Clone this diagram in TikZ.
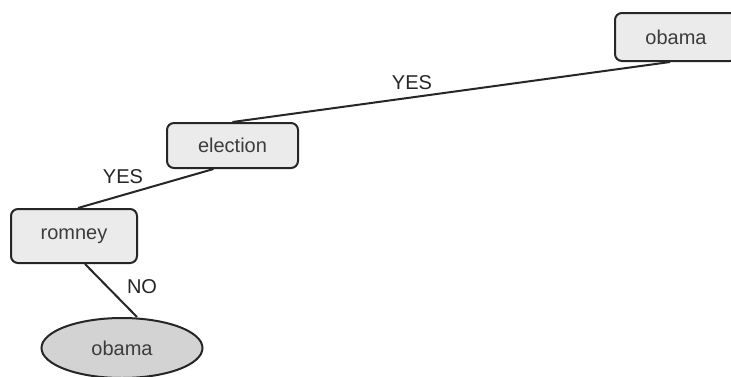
\documentclass[tikz,border=0pt]{standalone}
\usepackage{xcolor}
\usepackage{fontspec}
\setmainfont{Liberation Sans}
\usetikzlibrary{shapes.geometric}
\definecolor{boxfill}{HTML}{EBEBEB}
\definecolor{leaffill}{HTML}{D3D3D3}
\definecolor{inkgray}{HTML}{262626}
\tikzstyle{edge} = [line width=2pt, draw=inkgray]
\tikzstyle{decision} = [rectangle, rounded corners=7pt, draw=inkgray, line width=2pt, fill=boxfill, text=inkgray!90!white, inner sep=0pt, font=\fontsize{20}{24}\selectfont]
\tikzstyle{leaf} = [ellipse, draw=inkgray, line width=2pt, fill=leaffill, text=inkgray!90!white, inner sep=0pt, font=\fontsize{20}{24}\selectfont]
\tikzstyle{answer} = [text=inkgray, inner sep=0pt, font=\fontsize{20}{24}\selectfont]

\begin{document}
\begin{tikzpicture}[x=1pt, y=-1pt]
    \fill[white] (0,0) rectangle (731,376);
    \useasboundingbox (0,0) rectangle (731,376);

    % Tree nodes
    \node[decision, minimum width=122pt, minimum height=48pt] (root) at (676,37) {obama};
    \node[decision, minimum width=131pt, minimum height=45pt] (election) at (232.5,145.5) {election};
    \node[decision, minimum width=126pt, minimum height=54pt] (romney) at (74,236) {romney};
    \node[leaf, minimum width=161pt, minimum height=60pt] (result) at (122,348) {obama};

    % Branches
    \draw[edge] ([xshift=-6pt]root.south) -- (election.north);
    \draw[edge] ([xshift=-19pt]election.south) -- ([xshift=4pt]romney.north);
    \draw[edge] ([xshift=11pt]romney.south) -- ([xshift=15pt]result.north);

    % Branch labels
    \node[answer] (yes1) at (412,83) {YES};
    \node[answer] (yes2) at (123,177) {YES};
    \node[answer] (no1) at (142,287) {NO};
\end{tikzpicture}
\end{document}
